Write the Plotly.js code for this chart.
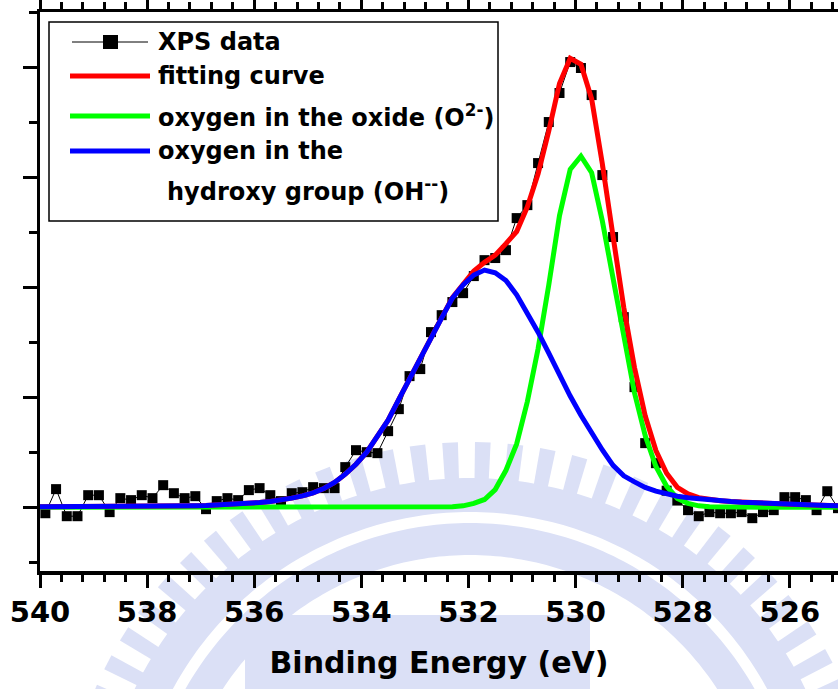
<!DOCTYPE html>
<html>
<head>
<meta charset="utf-8">
<script src="https://cdn.plot.ly/plotly-3.0.1.min.js"></script>
<style>
  html, body { margin: 0; padding: 0; background: #ffffff; overflow: hidden; }
  #chart { width: 838px; height: 689px; }
</style>
</head>
<body>
<div id="chart"></div>
<script>
// O 1s spectrum: measured points (binding energy in eV, intensity in a.u.)
const energyData = [
  539.9, 539.7, 539.5, 539.3, 539.1, 538.9, 538.7, 538.5, 538.3, 538.1,
  537.9, 537.7, 537.5, 537.3, 537.1, 536.9, 536.7, 536.5, 536.3, 536.1,
  535.9, 535.7, 535.5, 535.3, 535.1, 534.9, 534.7, 534.5, 534.3, 534.1,
  533.9, 533.7, 533.5, 533.3, 533.1, 532.9, 532.7, 532.5, 532.3, 532.1,
  531.9, 531.7, 531.5, 531.3, 531.1, 530.9, 530.7, 530.5, 530.3, 530.1,
  529.9, 529.7, 529.5, 529.3, 529.1, 528.9, 528.7, 528.5, 528.3, 528.1,
  527.9, 527.7, 527.5, 527.3, 527.1, 526.9, 526.7, 526.5, 526.3, 526.1,
  525.9, 525.7, 525.5, 525.3, 525.1
];
const xpsCounts = [
  -55, 164, -82, -82, 109, 109, -45, 82, 64, 109,
  82, 200, 127, 82, 100, -18, 55, 82, 64, 155,
  173, 109, 55, 127, 136, 182, 173, 173, 364, 518,
  500, 491, 691, 891, 1191, 1255, 1591, 1745, 1864, 1945,
  2100, 2245, 2264, 2336, 2627, 2745, 3127, 3500, 3764, 4045,
  3991, 3745, 3018, 2455, 1727, 1091, 582, 400, 150, 60,
  -27, -82, -45, -55, -55, -45, -100, -45, -27, 91,
  91, 64, -27, 145, -9
];

// Peak-fit curves on the fitting grid
const energyFit = [
  540.1, 539.9, 539.7, 539.5, 539.3, 539.1, 538.9, 538.7, 538.5, 538.3,
  538.1, 537.9, 537.7, 537.5, 537.3, 537.1, 536.9, 536.7, 536.5, 536.3,
  536.1, 535.9, 535.7, 535.5, 535.3, 535.1, 534.9, 534.7, 534.5, 534.3,
  534.1, 533.9, 533.7, 533.5, 533.3, 533.1, 532.9, 532.7, 532.5, 532.3,
  532.1, 531.9, 531.7, 531.5, 531.3, 531.1, 530.9, 530.7, 530.5, 530.3,
  530.1, 529.9, 529.7, 529.5, 529.3, 529.1, 528.9, 528.7, 528.5, 528.3,
  528.1, 527.9, 527.7, 527.5, 527.3, 527.1, 526.9, 526.7, 526.5, 526.3,
  526.1, 525.9, 525.7, 525.5, 525.3, 525.1
];
const fitTotal = [
  3, 3, 4, 4, 4, 5, 5, 6, 6, 7,
  8, 8, 9, 10, 12, 14, 16, 19, 23, 28,
  34, 42, 52, 65, 82, 103, 130, 170, 225, 300,
  390, 500, 640, 790, 980, 1170, 1355, 1531, 1722, 1905,
  2032, 2145, 2225, 2290, 2395, 2505, 2730, 3030, 3420, 3850,
  4080, 4025, 3710, 3120, 2460, 1815, 1270, 830, 515, 308,
  180, 121, 87, 70, 59, 51, 45, 40, 35, 31,
  27, 24, 21, 18, 16, 14
];
const fitOxide = [
  0, 0, 0, 0, 0, 0, 0, 0, 0, 0,
  0, 0, 0, 0, 0, 0, 0, 0, 0, 0,
  0, 0, 0, 0, 0, 0, 0, 0, 0, 0,
  0, 0, 0, 0, 0, 0, 0, 1, 2, 5,
  12, 35, 70, 160, 335, 575, 960, 1440, 2020, 2650,
  3070, 3190, 3040, 2600, 2080, 1530, 1040, 650, 370, 190,
  80, 35, 12, 4, 1, 0, 0, 0, 0, 0,
  0, 0, 0, 0, 0, 0
];
const fitHydroxy = [
  3, 3, 4, 4, 4, 5, 5, 6, 6, 7,
  8, 8, 9, 10, 12, 14, 16, 19, 23, 28,
  34, 42, 52, 65, 82, 103, 130, 170, 225, 300,
  390, 500, 640, 790, 980, 1170, 1355, 1530, 1720, 1900,
  2020, 2110, 2155, 2130, 2060, 1930, 1770, 1590, 1400, 1200,
  1010, 835, 670, 520, 380, 285, 230, 180, 145, 118,
  100, 86, 75, 66, 58, 51, 45, 40, 35, 31,
  27, 24, 21, 18, 16, 14
];

const xTickValues = [540, 538, 536, 534, 532, 530, 528, 526];
const xTickLabels = ['540', '538', '536', '534', '532', '530', '528', '526'];

const seriesNames = [
  'XPS data',
  'fitting curve',
  'oxygen in the oxide (O<sup>2-</sup>)',
  'oxygen in the',
  'hydroxy group (OH<sup>--</sup>)'
];

const FONT = 'DejaVu Sans, Verdana, sans-serif';
const RED = '#ff0000', GREEN = '#00ff00', BLUE = '#0000ff';
const SEAL = '#dbe0f6';

// Plot-area box in page pixels, used to place the hand-drawn legend and seal
const W = 838, H = 689;
const M = { l: 40, r: 0, t: 12, b: 118 };
const px = (x) => (x - M.l) / (W - M.l - M.r);
const py = (y) => (H - M.b - y) / (H - M.t - M.b);

const traces = [
  {
    x: energyData, y: xpsCounts, name: seriesNames[0],
    type: 'scatter', mode: 'lines+markers',
    line: { color: '#000000', width: 1 },
    marker: { symbol: 'square', size: 10, color: '#000000' }
  },
  {
    x: energyFit, y: fitOxide, name: 'oxygen in the oxide',
    type: 'scatter', mode: 'lines', line: { color: GREEN, width: 5 }
  },
  {
    x: energyFit, y: fitTotal, name: seriesNames[1],
    type: 'scatter', mode: 'lines', line: { color: RED, width: 5 }
  },
  {
    x: energyFit, y: fitHydroxy, name: 'oxygen in the hydroxy group',
    type: 'scatter', mode: 'lines', line: { color: BLUE, width: 5 }
  }
];

// Faint university seal printed behind the lower part of the figure
const sealC = { x: 470, y: 850 };
const polar = (r, deg) => [sealC.x + r * Math.cos(deg * Math.PI / 180),
                           sealC.y - r * Math.sin(deg * Math.PI / 180)];
const toPath = (pts) => pts.map((p, i) => (i ? 'L' : 'M') + px(p[0]).toFixed(5) + ',' + py(p[1]).toFixed(5)).join(' ') + ' Z';
function ringPath(r0, r1, a0, a1) {
  const pts = [];
  for (let a = a0; a <= a1 + 1e-9; a += 1) pts.push(polar(r1, a));
  for (let a = a1; a >= a0 - 1e-9; a -= 1) pts.push(polar(r0, a));
  return toPath(pts);
}
const sealShapes = [
  { type: 'path', path: ringPath(338, 372, 8, 172) },
  { type: 'path', path: ringPath(295, 327, 8, 172) }
];
for (let a = 10; a <= 170; a += 4.6) {
  sealShapes.push({ type: 'path', path: toPath([
    polar(371, a - 1.1), polar(408, a - 1.1), polar(408, a + 1.1), polar(371, a + 1.1)
  ]) });
}
sealShapes.push({ type: 'rect', x0: px(245), x1: px(590), y0: py(689), y1: py(615) });
sealShapes.forEach(s => Object.assign(s, {
  xref: 'paper', yref: 'paper', layer: 'below', fillcolor: SEAL, line: { width: 0 }
}));

// Legend: framed box with sample glyphs and labels
const legendShapes = [
  { type: 'rect', xref: 'paper', yref: 'paper',
    x0: px(49), x1: px(498), y0: py(221), y1: py(22),
    line: { color: '#000000', width: 1.5 }, fillcolor: '#ffffff', layer: 'above' },
  { type: 'line', xref: 'paper', yref: 'paper',
    x0: px(72), x1: px(148), y0: py(42), y1: py(42),
    line: { color: '#000000', width: 1 }, layer: 'above' },
  { type: 'rect', xref: 'paper', yref: 'paper',
    x0: px(103), x1: px(118), y0: py(49), y1: py(35),
    line: { width: 0 }, fillcolor: '#000000', layer: 'above' },
  { type: 'line', xref: 'paper', yref: 'paper',
    x0: px(70), x1: px(150), y0: py(76), y1: py(76),
    line: { color: RED, width: 5 }, layer: 'above' },
  { type: 'line', xref: 'paper', yref: 'paper',
    x0: px(70), x1: px(150), y0: py(116), y1: py(116),
    line: { color: GREEN, width: 5 }, layer: 'above' },
  { type: 'line', xref: 'paper', yref: 'paper',
    x0: px(70), x1: px(150), y0: py(151), y1: py(151),
    line: { color: BLUE, width: 5 }, layer: 'above' }
];

const labelPos = [[156, 42], [156, 76], [156, 116], [156, 151], [165, 190]];
const annotations = seriesNames.map((t, i) => ({
  text: t, xref: 'paper', yref: 'paper',
  x: px(labelPos[i][0]), y: py(labelPos[i][1]),
  xanchor: 'left', yanchor: 'middle', showarrow: false,
  font: { family: FONT, size: 24, weight: 700, color: '#000000' }
}));

const layout = {
  width: W, height: H,
  margin: M,
  paper_bgcolor: '#ffffff', plot_bgcolor: 'rgba(0,0,0,0)',
  showlegend: false,
  font: { family: FONT, color: '#000000' },
  xaxis: {
    range: [540, 525.1],
    tickmode: 'array', tickvals: xTickValues, ticktext: xTickLabels,
    ticks: 'outside', ticklen: 13, tickwidth: 3, tickcolor: '#000000',
    showline: true, linewidth: 3.5, linecolor: '#000000', mirror: 'allticks',
    showgrid: false, zeroline: false,
    tickfont: { family: FONT, size: 29, weight: 700, color: '#000000' },
    minor: { tickmode: 'linear', tick0: 540, dtick: 0.4, ticks: 'outside',
             ticklen: 7, tickwidth: 3, tickcolor: '#000000', showgrid: false },
    title: { text: 'Binding Energy (eV)', standoff: 24,
             font: { family: FONT, size: 30, weight: 700, color: '#000000' } }
  },
  yaxis: {
    range: [-580, 4500],
    tickmode: 'linear', tick0: 0, dtick: 1000,
    showticklabels: false,
    ticks: 'outside', ticklen: 14, tickwidth: 3, tickcolor: '#000000',
    showline: true, linewidth: 3.5, linecolor: '#000000', mirror: false,
    showgrid: false, zeroline: false,
    minor: { tickmode: 'linear', tick0: 0, dtick: 500, ticks: 'outside',
             ticklen: 8, tickwidth: 3, tickcolor: '#000000', showgrid: false }
  },
  shapes: sealShapes.concat(legendShapes),
  annotations: annotations
};

Plotly.newPlot('chart', traces, layout, { staticPlot: true, displayModeBar: false });
</script>
</body>
</html>
